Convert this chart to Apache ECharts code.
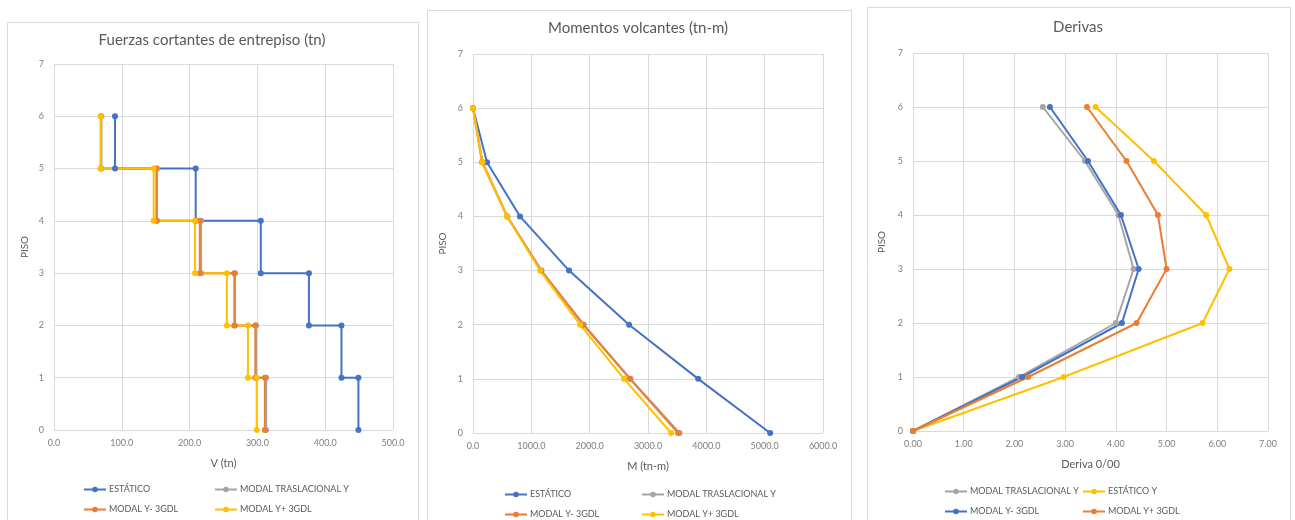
<!DOCTYPE html>
<html><head><meta charset="utf-8">
<script src="https://cdn.jsdelivr.net/npm/echarts@6/dist/echarts.min.js"></script>
<style>html,body{margin:0;padding:0;background:#fff}#c{width:1295px;height:520px}</style>
</head><body><div id="c"></div>
<script>
// ---------- DATA ----------
const floorLevels = [0, 1, 2, 3, 4, 5, 6];
// Panel 1: storey shear (storey 1..6), tn
const shearEstatico = [449, 424, 376, 305, 209, 90];
const shearModalTras = [313, 298, 267, 217, 152, 70];
const shearModalMinus = [311, 297, 266, 215, 151, 69];
const shearModalPlus = [299, 286, 255, 208, 147, 69];
// Panel 2: overturning moments at levels 0..6, tn-m
const momEstatico = [5094, 3860, 2676, 1647, 806, 240, 0];
const momModalTras = [3540, 2700, 1900, 1175, 590, 165, 0];
const momModalMinus = [3516, 2690, 1887, 1166, 583, 154, 0];
const momModalPlus = [3396, 2590, 1835, 1150, 583, 160, 0];
// Panel 3: drifts at levels 0..6, 0/00
const drModalTras = [0, 2.09, 4.00, 4.35, 4.05, 3.39, 2.56];
const drEstaticoY = [0, 2.97, 5.71, 6.24, 5.78, 4.75, 3.60];
const drModalMinus = [0, 2.15, 4.12, 4.45, 4.10, 3.45, 2.70];
const drModalPlus = [0, 2.27, 4.41, 5.00, 4.83, 4.21, 3.43];

const titles = ['Fuerzas cortantes de entrepiso (tn)', 'Momentos volcantes (tn-m)', 'Derivas'];
const xNames = ['V (tn)', 'M (tn-m)', 'Deriva 0/00'];
const yName = 'PISO';

// ---------- HELPERS ----------
const C = { blue: '#4472C4', orange: '#ED7D31', gray: '#A5A5A5', yellow: '#FFC000' };
const FONT = 'Lato, "Open Sans", sans-serif';
function stepPoints(v) {
  const pts = [];
  for (let i = 0; i < v.length; i++) { pts.push([v[i], floorLevels[i]]); pts.push([v[i], floorLevels[i + 1]]); }
  return pts;
}
function levelPoints(v) { return v.map((x, i) => [x, floorLevels[i]]); }
function mkSeries(id, name, color, data, idx) {
  return {
    type: 'line', name: id + '|' + name, data: data, xAxisIndex: idx, yAxisIndex: idx,
    color: color, lineStyle: { width: 2, color: color }, itemStyle: { color: color },
    symbol: 'circle', symbolSize: 6, showSymbol: true, animation: false, z: 3
  };
}
const series = [
  mkSeries('a', 'ESTÁTICO', C.blue, stepPoints(shearEstatico), 0),
  mkSeries('b', 'MODAL TRASLACIONAL Y', C.gray, stepPoints(shearModalTras), 0),
  mkSeries('c', 'MODAL Y- 3GDL', C.orange, stepPoints(shearModalMinus), 0),
  mkSeries('d', 'MODAL Y+ 3GDL', C.yellow, stepPoints(shearModalPlus), 0),
  mkSeries('e', 'ESTÁTICO', C.blue, levelPoints(momEstatico), 1),
  mkSeries('f', 'MODAL TRASLACIONAL Y', C.gray, levelPoints(momModalTras), 1),
  mkSeries('g', 'MODAL Y- 3GDL', C.orange, levelPoints(momModalMinus), 1),
  mkSeries('h', 'MODAL Y+ 3GDL', C.yellow, levelPoints(momModalPlus), 1),
  mkSeries('i', 'MODAL TRASLACIONAL Y', C.gray, levelPoints(drModalTras), 2),
  mkSeries('j', 'ESTÁTICO Y', C.yellow, levelPoints(drEstaticoY), 2),
  mkSeries('k', 'MODAL Y- 3GDL', C.blue, levelPoints(drModalMinus), 2),
  mkSeries('l', 'MODAL Y+ 3GDL', C.orange, levelPoints(drModalPlus), 2)
];

const grids = [
  { left: 54, right: 902, top: 64, bottom: 90 },
  { left: 473, right: 472, top: 54, bottom: 87 },
  { left: 913, right: 27, top: 53, bottom: 89 }
];
const xCfg = [
  { max: 500, interval: 100, dec: 1 },
  { max: 6000, interval: 1000, dec: 1 },
  { max: 7, interval: 1, dec: 2 }
];
const labelStyle = { color: '#7F7F7F', fontSize: 9, fontFamily: FONT };
const gridLine = { show: true, lineStyle: { color: '#D9D9D9', width: 1 } };
const xAxis = xCfg.map((c, i) => ({
  type: 'value', gridIndex: i, min: 0, max: c.max, interval: c.interval,
  axisLine: { show: false }, axisTick: { show: false }, splitLine: gridLine,
  axisLabel: Object.assign({ margin: 9, formatter: v => v.toFixed(c.dec) }, labelStyle),
  name: xNames[i], nameLocation: 'middle', nameGap: 28,
  nameTextStyle: { color: '#595959', fontSize: 11, fontFamily: FONT }
}));
const yGaps = [24, 25, 26];
const yAxis = [0, 1, 2].map(i => ({
  type: 'value', gridIndex: i, min: 0, max: 7, interval: 1,
  axisLine: { show: false }, axisTick: { show: false }, splitLine: gridLine,
  axisLabel: Object.assign({ margin: 10 }, labelStyle),
  name: yName, nameLocation: 'middle', nameRotate: 90, nameGap: yGaps[i],
  nameTextStyle: { color: '#595959', fontSize: 10, fontFamily: FONT }
}));
const titlePos = [[212, 33], [638, 21], [1078, 20]];
const title = titles.map((t, i) => ({
  text: t, left: titlePos[i][0], top: titlePos[i][1], textAlign: 'center', padding: 0,
  textStyle: { color: '#595959', fontSize: 15, fontWeight: 'normal', fontFamily: FONT }
}));
// legend items: [seriesId, left, top]
const legendItems = [
  ['a', 83, 485], ['b', 214, 485], ['c', 83, 505], ['d', 214, 505],
  ['e', 504, 490], ['f', 641, 490], ['g', 504, 510], ['h', 641, 510],
  ['i', 944, 487], ['j', 1082, 487], ['k', 944, 507], ['l', 1082, 507]
];
const legend = legendItems.map(it => {
  const s = series.find(s => s.name.startsWith(it[0] + '|'));
  return {
    data: [s.name], left: it[1], top: it[2], padding: 0, itemWidth: 22, itemHeight: 7, itemGap: 4,
    selectedMode: false, formatter: n => n.split('|')[1],
    textStyle: { color: '#595959', fontSize: 9, fontFamily: FONT, padding: [0, 0, 0, -2] }
  };
});
const panels = [[7, 22, 411], [427, 10, 424], [867, 7, 423]];
const graphic = panels.map(p => ({
  type: 'rect', left: p[0], top: p[1], z: -10, silent: true,
  shape: { x: 0, y: 0, width: p[2], height: 530 },
  style: { fill: '#fff', stroke: '#D9D9D9', lineWidth: 1 }
}));

const chart = echarts.init(document.getElementById('c'), null, { renderer: 'canvas' });
chart.setOption({
  backgroundColor: '#fff', animation: false,
  title: title, grid: grids, xAxis: xAxis, yAxis: yAxis, legend: legend, series: series, graphic: graphic
});
</script></body></html>
